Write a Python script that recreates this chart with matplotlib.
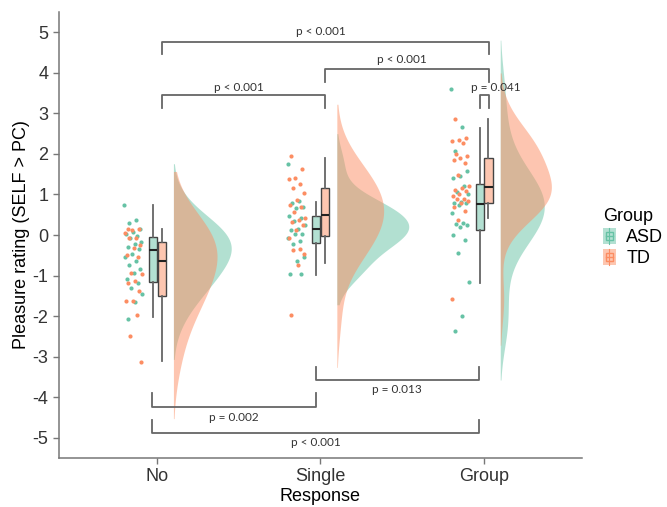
import numpy as np
import matplotlib
matplotlib.use("Agg")
import matplotlib.pyplot as plt
from matplotlib.patches import Rectangle, Patch
from matplotlib.lines import Line2D
from matplotlib.legend_handler import HandlerBase

plt.rcParams['font.family'] = ['Liberation Sans', 'DejaVu Sans']
plt.rcParams['axes.unicode_minus'] = False

#################################
# data
#################################
categories = ['No', 'Single', 'Group']
groups = ['ASD', 'TD']

asd_no = [0.75, 0.37, 0.29, 0.15, 0.08, 0.02, -0.03, -0.07, -0.16, -0.22, -0.3, -0.35,
          -0.47, -0.55, -0.65, -0.74, -0.85, -0.94, -1.08, -1.18, -1.3, -1.45, -1.65, -2.06]
td_no = [0.16, 0.16, 0.12, 0.04, -0.08, -0.08, -0.25, -0.33, -0.49, -0.53, -0.94, -0.96,
         -1.13, -1.18, -1.39, -1.63, -1.63, -1.98, -2.5, -3.12]
asd_single = [1.74, 0.84, 0.78, 0.68, 0.66, 0.47, 0.43, 0.35, 0.25, 0.14, 0.12, 0.02,
              0.02, -0.08, -0.14, -0.22, -0.55, -0.65, -0.96, -0.95]
td_single = [1.94, 1.62, 1.41, 1.37, 1.27, 1.17, 1.04, 0.86, 0.74, 0.68, 0.57, 0.41,
             0.37, 0.33, 0.25, 0.12, -0.08, -0.35, -0.38, -0.47, -0.74, -1.98]
asd_group = [3.6, 2.67, 2.06, 1.59, 1.45, 1.4, 1.22, 1.06, 1.02, 0.82, 0.8, 0.78,
             0.74, 0.55, 0.3, 0.27, 0.25, 0.2, 0.0, -0.12, -0.45, -1.17, -1.99, -2.37]
td_group = [2.86, 2.39, 2.35, 2.33, 2.26, 2.0, 1.94, 1.9, 1.86, 1.77, 1.47, 1.2, 1.15,
            1.12, 1.08, 1.0, 0.96, 0.9, 0.88, 0.85, 0.8, 0.7, 0.6, 0.37, -1.58]

# box stats: whislo, q1, med, q3, whishi
asd_box = [[-2.03, -1.15, -0.37, -0.05, 0.74],
           [-0.98, -0.20, 0.15, 0.47, 0.81],
           [-1.18, 0.12, 0.76, 1.27, 2.65]]
td_box = [[-3.11, -1.50, -0.64, -0.17, 0.15],
          [-0.69, -0.02, 0.49, 1.15, 1.91],
          [0.42, 0.78, 1.18, 1.89, 2.87]]

# pairwise comparisons: (x1, x2, label)
td_tests = [(1, 3, 'p < 0.001'), (2, 3, 'p < 0.001'), (1, 2, 'p < 0.001')]
asd_tests = [(2, 3, 'p = 0.013'), (1, 2, 'p = 0.002'), (1, 3, 'p < 0.001')]
group_test = 'p = 0.041'

asd_data = [asd_no, asd_single, asd_group]
td_data = [td_no, td_single, td_group]

col = {'ASD': '#66c2a5', 'TD': '#fc8d62'}
light = {'ASD': '#b3e0d2', 'TD': '#fdc6b0'}


def bw_nrd0(x):
    x = np.asarray(x)
    iqr = np.subtract(*np.percentile(x, [75, 25]))
    lo = min(x.std(ddof=1), iqr / 1.34)
    return 0.9 * lo * len(x) ** -0.2


def density(x):
    x = np.asarray(x)
    bw = bw_nrd0(x) * 1.6
    grid = np.linspace(x.min() - 1.9 * bw, x.max() + 1.9 * bw, 300)
    d = np.exp(-0.5 * ((grid[:, None] - x[None, :]) / bw) ** 2).sum(1)
    d /= len(x) * bw * np.sqrt(2 * np.pi)
    return grid, d


fig = plt.figure(figsize=(6.67, 5.07), dpi=100)
ax = fig.add_axes([0.0885, 0.0966, 0.784, 0.8797])

xs = np.arange(1, len(categories) + 1)

# half violins
dens = {}
for i in range(len(categories)):
    dens[('ASD', i)] = density(asd_data[i])
    dens[('TD', i)] = density(td_data[i])
dmax = max(d.max() for g, d in dens.values())
vwidth = 0.44
for g in groups:
    for i, x in enumerate(xs):
        grid, d = dens[(g, i)]
        ax.fill_betweenx(grid, x + 0.1, x + 0.1 + d / dmax * vwidth,
                         color=col[g], alpha=0.5, lw=0, zorder=1)

# jittered points
for g, data in (('ASD', asd_data), ('TD', td_data)):
    for i, x in enumerate(xs):
        n = len(data[i])
        k = np.arange(n) + (0.3 if g == 'TD' else 0.0)
        jit = ((k * 0.618034) % 1 - 0.5) * 0.11
        ax.scatter(x - 0.145 + jit, data[i], s=9, color=col[g], lw=0, zorder=3)

# boxplots
for g, stats, off in (('ASD', asd_box, -0.026), ('TD', td_box, 0.028)):
    bxp_stats = [dict(whislo=s[0], q1=s[1], med=s[2], q3=s[3], whishi=s[4], fliers=[])
                 for s in stats]
    ax.bxp(bxp_stats, positions=xs + off, widths=0.05, patch_artist=True,
           showcaps=False, manage_ticks=False, zorder=4,
           boxprops=dict(facecolor=light[g], edgecolor='#444444', lw=1.0),
           whiskerprops=dict(color='#666666', lw=1.3),
           medianprops=dict(color='#222222', lw=1.5))

# significance brackets
bc = '#666666'
tfont = dict(fontsize=8.5, color='#333333', family=['Lato', 'DejaVu Sans'],
             ha='center', va='center')


def bracket(x1, x2, ybar, ytip, label, ytext, xtext=None):
    ax.plot([x1, x1, x2, x2], [ytip, ybar, ybar, ytip], color=bc, lw=1.3, zorder=5)
    if xtext is None:
        xtext = (x1 + x2) / 2
    ax.text(xtext, ytext, label, zorder=6, **tfont)


top_levels = [(4.75, 4.46, 5.02), (4.09, 3.77, 4.34), (3.46, 3.14, 3.65)]
for (a, b, lab), (yb, yt, ytx) in zip(td_tests, top_levels):
    bracket(a + 0.03, b + 0.03, yb, yt, lab, ytx, (a + b) / 2)
bot_levels = [(-3.58, -3.26, -3.82), (-4.24, -3.90, -4.49), (-4.88, -4.56, -5.12)]
for (a, b, lab), (yb, yt, ytx) in zip(asd_tests, bot_levels):
    bracket(a - 0.03, b - 0.03, yb, yt, lab, ytx, (a + b) / 2 - 0.03)
bracket(2.975, 3.03, 3.46, 3.14, group_test, 3.65, 3.07)

# axes styling
ax.set_xlim(0.4, 3.6)
ax.set_ylim(-5.5, 5.5)
ax.set_xticks(xs)
ax.set_xticklabels(categories)
ax.set_yticks(np.arange(-5, 6))
ax.tick_params(labelsize=13, colors='#333333', length=4, width=1, color='#777777')
for s in ('top', 'right'):
    ax.spines[s].set_visible(False)
for s in ('left', 'bottom'):
    ax.spines[s].set_color('#777777')
    ax.spines[s].set_linewidth(1.1)
ax.set_xlabel('Response', fontsize=13, labelpad=2)
ax.set_ylabel('Pleasure rating (SELF > PC)', fontsize=13, labelpad=2)


# legend with little boxplot keys
class BoxKey(HandlerBase):
    def create_artists(self, legend, orig, xd, yd, w, h, fs, trans):
        bg = Rectangle((-xd, -yd), h * 0.8, h, facecolor=orig.get_facecolor(),
                       edgecolor='none', transform=trans)
        cx = -xd + h * 0.4
        bx = Rectangle((cx - h * 0.2, -yd + h * 0.25), h * 0.4, h * 0.5,
                       facecolor='none', edgecolor=orig.get_edgecolor(), lw=1,
                       transform=trans)
        ln = Line2D([cx, cx], [-yd, -yd + h], color=orig.get_edgecolor(), lw=0.8,
                    transform=trans)
        md = Line2D([cx - h * 0.2, cx + h * 0.2], [-yd + h / 2] * 2,
                    color=orig.get_edgecolor(), lw=1, transform=trans)
        return [bg, ln, bx, md]


handles = [Patch(facecolor=light[g], edgecolor=col[g]) for g in groups]
leg = fig.legend(handles, groups, title='Group', loc='upper left',
                 bbox_to_anchor=(0.885, 0.615), frameon=False, fontsize=13,
                 title_fontsize=13, handler_map={Patch: BoxKey()},
                 handlelength=0.8, handleheight=1.0, handletextpad=0.5,
                 labelspacing=0.15, alignment='left', borderpad=0.2)

fig.savefig('out.png', dpi=100)
